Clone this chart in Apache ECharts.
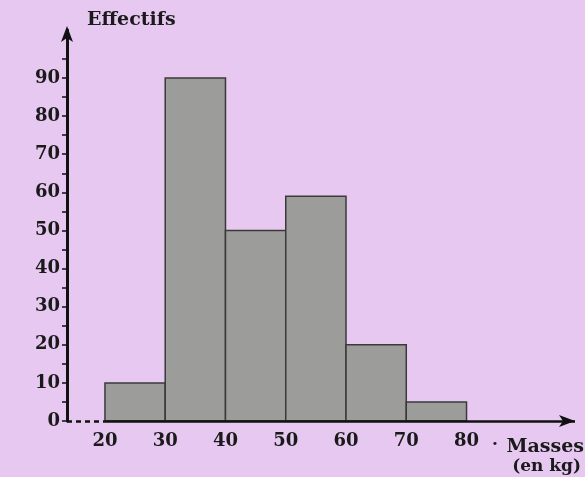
<!DOCTYPE html>
<html>
<head>
<meta charset="utf-8">
<script src="https://cdn.jsdelivr.net/npm/echarts@6/dist/echarts.min.js"></script>
<style>
html,body{margin:0;padding:0;background:#e6c8f0;}
#c{width:585px;height:477px;}
</style>
</head>
<body>
<div id="c"></div>
<script>
// Class bounds (kg) and counts
var classStarts = [20, 30, 40, 50, 60, 70];
var classEnds   = [30, 40, 50, 60, 70, 80];
var counts      = [10, 90, 50, 59, 20, 5];
var xTickLabels = [20, 30, 40, 50, 60, 70, 80];
var yTickLabels = [0, 10, 20, 30, 40, 50, 60, 70, 80, 90];
var yTicks      = [0, 5, 10, 15, 20, 25, 30, 35, 40, 45, 50, 55, 60, 65, 70, 75, 80, 85, 90, 95];
var xAxisMin = 13.7, xAxisMax = 98, yAxisMax = 102.6;
var yTitle = 'Effectifs';
var xTitle1 = 'Masses';
var xTitle2 = '(en kg)';

var font = 'DejaVu Serif';
var chart = echarts.init(document.getElementById('c'), null, {renderer: 'canvas'});

var histData = classStarts.map(function (s, i) { return [s, classEnds[i], counts[i]]; });

chart.setOption({
  backgroundColor: '#e6c8f0',
  animation: false,
  grid: {left: 67, right: 10, top: 30, bottom: 56},
  xAxis: {
    type: 'value', min: xAxisMin, max: xAxisMax,
    axisLine: {show: false},
    axisTick: {show: false},
    splitLine: {show: false},
    axisLabel: {
      customValues: xTickLabels, margin: 11,
      color: '#1a1a1a', fontFamily: font, fontSize: 18, fontWeight: 'bold'
    }
  },
  yAxis: {
    type: 'value', min: 0, max: yAxisMax,
    axisLine: {show: true, symbol: ['none', 'arrow'], symbolSize: [9, 16], symbolOffset: [0, 4],
      lineStyle: {color: '#111', width: 3}},
    axisTick: {show: true, customValues: yTicks, length: 5, lineStyle: {color: '#111', width: 1.5}},
    splitLine: {show: false},
    axisLabel: {
      customValues: yTickLabels, margin: 7,
      color: '#1a1a1a', fontFamily: font, fontSize: 18, fontWeight: 'bold'
    }
  },
  series: [
    {
      type: 'custom',
      data: histData,
      encode: {x: [0, 1], y: 2},
      renderItem: function (params, api) {
        var p0 = api.coord([api.value(0), 0]);
        var p1 = api.coord([api.value(1), api.value(2)]);
        return {
          type: 'rect',
          shape: {x: p0[0], y: p1[1], width: p1[0] - p0[0], height: p0[1] - p1[1]},
          style: {fill: '#9c9c9b', stroke: '#3a3a3a', lineWidth: 1.5}
        };
      },
      z: 2
    },
    {
      type: 'line',
      data: [],
      markLine: {
        silent: true,
        animation: false,
        label: {show: false},
        data: [
          [{coord: [xAxisMin, 0], symbol: 'none', lineStyle: {type: [5, 4], color: '#111', width: 2.5}},
           {coord: [xTickLabels[0], 0], symbol: 'none'}],
          [{coord: [xTickLabels[0], 0], symbol: 'none', lineStyle: {type: 'solid', color: '#111', width: 2.5}},
           {coord: [xAxisMax, 0], symbol: 'arrow', symbolSize: [9, 16]}]
        ]
      },
      z: 5
    }
  ],
  graphic: [
    {type: 'text', left: 87, top: 11, style: {text: yTitle, font: 'bold 19px "DejaVu Serif"', fill: '#1a1a1a'}},
    {type: 'text', left: 492, top: 436, style: {text: '·', font: 'bold 17px "DejaVu Serif"', fill: '#1a1a1a'}},
    {type: 'text', right: 1, top: 438, style: {text: xTitle1, font: 'bold 19px "DejaVu Serif"', fill: '#1a1a1a'}},
    {type: 'text', right: 4, top: 458, style: {text: xTitle2, font: 'bold 17px "DejaVu Serif"', fill: '#1a1a1a'}}
  ]
});
</script>
</body>
</html>
